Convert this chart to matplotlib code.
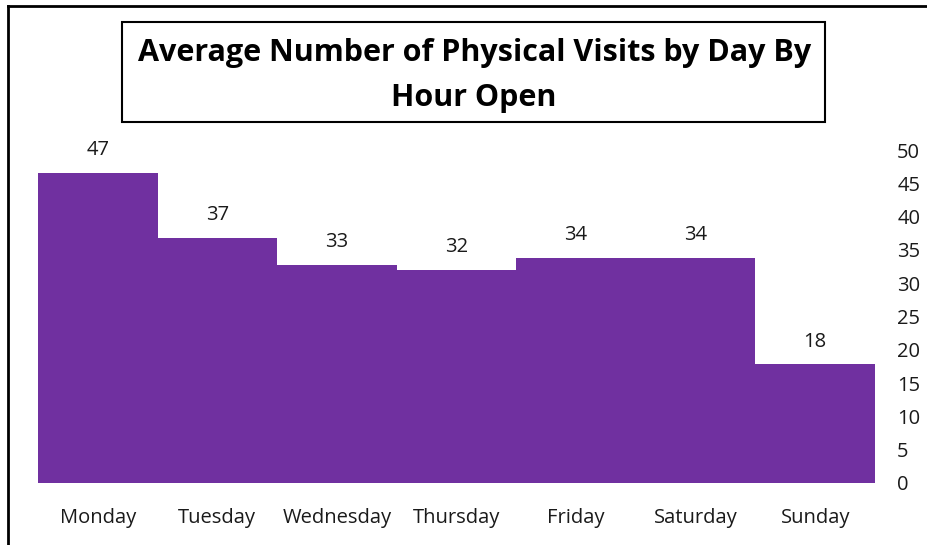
import matplotlib.pyplot as plt
from matplotlib.lines import Line2D
from matplotlib.patches import Rectangle

days = ["Monday", "Tuesday", "Wednesday", "Thursday", "Friday", "Saturday", "Sunday"]
visits = [46.6, 36.8, 32.8, 32.0, 33.8, 33.8, 17.8]
y_ticks = [0, 5, 10, 15, 20, 25, 30, 35, 40, 45, 50]

purple = "#7030A0"
plt.rcParams["font.family"] = ["Open Sans", "DejaVu Sans"]

W, H = 928, 545
fig = plt.figure(figsize=(W / 100, H / 100), dpi=100)
ax = fig.add_axes([38 / W, 62 / H, 837 / W, 333 / H])

x = range(len(days))
ax.bar(x, visits, width=1.0, color=purple, edgecolor="none")
for i, v in zip(x, visits):
    ax.text(i, v + 1.9, f"{v:.0f}", ha="center", va="bottom", fontsize=14.5, color="#1a1a1a")

ax.set_xlim(-0.5, len(days) - 0.5)
ax.set_ylim(0, 50)
ax.set_xticks(list(x))
ax.set_xticklabels(days, fontsize=14.5, color="#1a1a1a")
ax.set_yticks(y_ticks)
ax.set_yticklabels([str(t) for t in y_ticks], fontsize=14.5, color="#1a1a1a")
ax.yaxis.tick_right()
ax.tick_params(axis="both", length=0)
ax.tick_params(axis="y", pad=16)
ax.tick_params(axis="x", pad=18)
for s in ax.spines.values():
    s.set_visible(False)

# title in a box
fig.add_artist(Rectangle((122 / W, 1 - 122 / H), 703 / W, 100 / H, transform=fig.transFigure,
                         fc="white", ec="black", lw=1.5))
fig.text(475 / W, 1 - 53 / H, "Average Number of Physical Visits by Day By",
         ha="center", va="center", fontsize=22, fontweight="bold")
fig.text(474 / W, 1 - 98 / H, "Hour Open",
         ha="center", va="center", fontsize=22, fontweight="bold")

# outer frame (left and top edges visible)
fig.add_artist(Line2D([8 / W, 8 / W], [0, 1 - 6 / H], color="black", lw=2, transform=fig.transFigure))
fig.add_artist(Line2D([8 / W, 1], [1 - 6 / H, 1 - 6 / H], color="black", lw=2, transform=fig.transFigure))

fig.savefig("out.png", dpi=100)
